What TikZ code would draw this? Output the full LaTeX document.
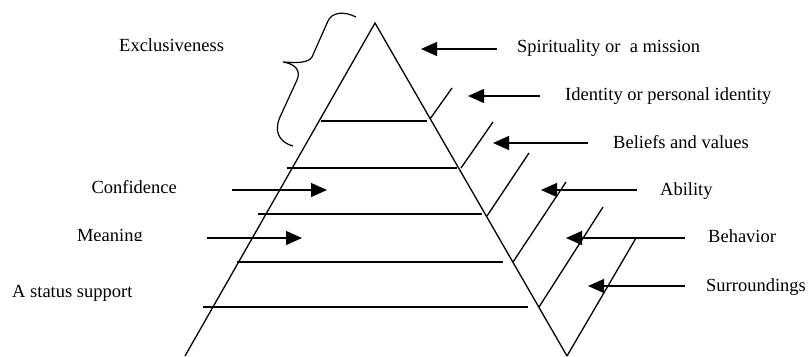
\documentclass[tikz,border=0pt]{standalone}
\usepackage{fontspec}
\setmainfont{Liberation Serif}
\usetikzlibrary{arrows.meta}

\begin{document}
\begin{tikzpicture}[
    x=1pt, y=-1pt,
    font=\fontsize{18.5pt}{22pt}\selectfont,
    level/.style={line width=1.3pt},
    edge/.style={line width=1.3pt},
    label/.style={inner sep=0pt, anchor=base west},
    leftlabel/.style={inner sep=0pt, anchor=base east},
    pointer/.style={-{Triangle[length=16pt,width=14pt]}, line width=1.3pt}
]
\useasboundingbox (0,0) rectangle (808,356);

\draw[edge] (185,356) -- (375,23) -- (567,356);

\draw[level] (321,121) -- (427,121);
\draw[level] (287,168) -- (457,168);
\draw[level] (258,214) -- (482,214);
\draw[level] (237,262) -- (503,262);
\draw[level] (203,307) -- (528,307);

\draw[edge] (430,119) -- (452,88);
\draw[edge] (461,168) -- (493,122);
\draw[edge] (487,216) -- (529,153);
\draw[edge] (513,262) -- (566,182);
\draw[edge] (539,307) -- (603,207);
\draw[edge] (567,356) -- (636,238);

\draw[line width=1.2pt] (356,17) .. controls (344,11) and (332,12) .. (328,21) -- (312,57)
    .. controls (308,63) and (298,63) .. (283,62)
    .. controls (296,64) and (301,71) .. (297,80) -- (280,117)
    .. controls (274,130) and (278,142) .. (293,146);

\node[label] (Exclusive) at (119,51) {Exclusiveness};
\node[label] (Spirit) at (517,52) {Spirituality or\ \ a mission};
\node[label] (Identity) at (565,100) {Identity or personal identity};
\node[label] (Beliefs) at (613,148) {Beliefs and values};
\node[label] (Ability) at (660,195) {Ability};
\node[label] (Behavior) at (708,242) {Behavior};
\node[label] (Surround) at (706,291) {Surroundings};
\node[leftlabel] (Confidence) at (177,193) {Confidence};
\node[label] (Status) at (12,297) {A status support};
\begin{scope}
\clip (60,215) rectangle (170,240);
\node[leftlabel] (Meaning) at (143,241) {Meaning};
\end{scope}

\coordinate (SpiritTip) at (421,49);
\coordinate (IdentityTip) at (468,96);
\coordinate (BeliefsTip) at (493,143);
\coordinate (AbilityTip) at (541,190);
\coordinate (BehaviorTip) at (566,238);
\coordinate (SurroundTip) at (588,286);
\coordinate (ConfidenceTip) at (327,190);
\coordinate (MeaningTip) at (302,238);

\draw[pointer, shorten <=20pt] (Spirit.west |- SpiritTip) -- (SpiritTip);
\draw[pointer, shorten <=25pt] (Identity.west |- IdentityTip) -- (IdentityTip);
\draw[pointer, shorten <=25pt] (Beliefs.west |- BeliefsTip) -- (BeliefsTip);
\draw[pointer, shorten <=23pt] (Ability.west |- AbilityTip) -- (AbilityTip);
\draw[pointer, shorten <=23pt] (Behavior.west |- BehaviorTip) -- (BehaviorTip);
\draw[pointer, shorten <=21pt] (Surround.west |- SurroundTip) -- (SurroundTip);
\draw[pointer, shorten <=55pt] (Confidence.east |- ConfidenceTip) -- (ConfidenceTip);
\draw[pointer, shorten <=64pt] (Meaning.east |- MeaningTip) -- (MeaningTip);
\end{tikzpicture}
\end{document}
